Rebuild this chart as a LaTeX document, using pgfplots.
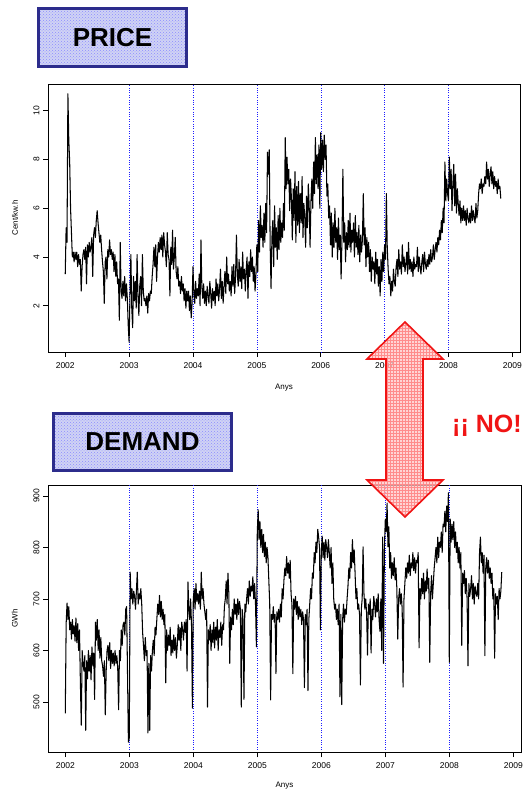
\documentclass[border=0pt]{standalone}
\usepackage{pgfplots}
\pgfplotsset{compat=1.18}
\usepackage{pgfplotstable}
\usepackage{fontspec}
\setmainfont{Liberation Sans}
\usetikzlibrary{patterns}

\definecolor{boxblue}{RGB}{44,44,140}
\definecolor{boxfill}{RGB}{208,211,244}
\definecolor{arrred}{RGB}{240,20,20}
\definecolor{gridblue}{RGB}{30,30,255}

\pgfplotstableread[header=false,row sep=\\]{
3.3\\5.2\\4.6\\10.7\\8.8\\7.9\\
6.0\\5.0\\4.0\\4.2\\3.8\\4.2\\
3.9\\4.2\\3.6\\4.1\\3.7\\3.9\\
2.6\\3.6\\4.1\\4.3\\3.9\\4.4\\
2.9\\4.5\\4.0\\4.6\\4.2\\4.4\\
4.8\\3.2\\4.9\\5.2\\4.8\\5.5\\
5.9\\5.4\\5.0\\4.6\\4.9\\4.3\\
3.8\\3.4\\2.1\\3.8\\4.0\\3.1\\
4.3\\4.0\\4.7\\4.1\\4.3\\3.9\\
4.2\\3.4\\4.1\\3.2\\3.8\\2.9\\
3.1\\1.4\\4.6\\2.6\\2.3\\3.0\\
2.4\\3.2\\2.2\\2.9\\2.3\\1.2\\
0.5\\2.5\\4.1\\1.9\\1.1\\3.2\\
2.2\\3.0\\1.9\\4.1\\2.4\\1.6\\
2.8\\3.2\\2.0\\4.1\\2.6\\2.2\\
2.3\\2.0\\2.4\\1.7\\2.5\\2.2\\
2.6\\2.5\\3.2\\3.7\\4.4\\3.6\\
4.5\\3.0\\4.0\\4.6\\4.2\\4.8\\
4.3\\4.9\\4.0\\5.0\\4.5\\4.2\\
3.6\\5.0\\4.1\\3.9\\2.4\\4.4\\
3.7\\5.1\\3.5\\4.0\\4.8\\3.4\\
3.1\\3.6\\2.8\\3.0\\2.5\\3.2\\
2.6\\2.9\\2.2\\2.7\\1.9\\2.6\\
2.2\\2.6\\1.8\\2.4\\1.5\\2.1\\
3.6\\2.5\\2.1\\3.0\\2.3\\2.7\\
2.4\\3.3\\2.0\\4.7\\2.8\\2.3\\
2.9\\2.1\\2.6\\2.0\\2.8\\2.4\\
2.1\\3.0\\2.5\\1.9\\2.7\\2.2\\
2.6\\2.0\\3.1\\2.4\\2.9\\2.2\\
2.7\\3.5\\2.3\\3.0\\2.1\\2.8\\
3.4\\2.5\\4.0\\2.9\\3.3\\2.6\\
3.0\\2.4\\3.6\\2.8\\3.7\\2.5\\
3.2\\4.9\\3.3\\2.8\\3.9\\3.0\\
3.6\\2.7\\4.2\\3.1\\3.5\\2.6\\
3.5\\4.0\\2.3\\3.8\\3.2\\4.3\\
3.4\\4.0\\3.0\\3.6\\2.6\\3.3\\
4.5\\3.4\\5.5\\4.2\\6.1\\4.8\\
5.3\\4.4\\5.8\\4.6\\6.2\\5.0\\
8.3\\7.4\\8.4\\4.5\\2.7\\4.8\\
5.5\\3.6\\6.1\\4.4\\5.2\\3.9\\
5.7\\4.3\\6.0\\4.6\\5.4\\4.8\\
6.2\\5.1\\8.9\\6.8\\8.1\\7.0\\
7.6\\5.9\\7.2\\6.4\\4.7\\6.8\\
5.5\\7.5\\4.6\\6.9\\5.3\\7.1\\
5.0\\6.6\\5.4\\7.3\\4.8\\6.2\\
5.6\\4.4\\6.5\\5.2\\7.0\\6.1\\
4.4\\6.3\\7.2\\6.0\\7.9\\6.6\\
8.9\\7.0\\8.2\\6.8\\8.6\\6.0\\
9.1\\7.6\\8.8\\7.5\\9.0\\8.0\\
8.6\\6.5\\7.0\\5.6\\6.1\\4.5\\
5.8\\4.0\\5.4\\4.4\\6.0\\4.6\\
5.2\\3.9\\5.6\\4.3\\4.9\\3.1\\
4.8\\7.6\\4.6\\5.4\\3.8\\5.0\\
4.3\\5.5\\4.4\\5.8\\4.2\\5.1\\
4.6\\5.4\\4.0\\5.7\\4.4\\5.0\\
4.1\\5.3\\3.8\\4.9\\4.2\\4.7\\
6.6\\4.5\\5.2\\3.6\\4.8\\4.0\\
4.6\\3.4\\4.3\\3.0\\4.0\\3.5\\
3.8\\2.9\\4.2\\3.3\\3.9\\2.8\\
3.6\\2.4\\3.9\\3.0\\4.2\\3.4\\
4.5\\3.9\\6.6\\4.4\\3.5\\2.9\\
3.2\\2.4\\3.0\\2.6\\3.5\\3.0\\
2.8\\3.6\\3.9\\3.2\\4.3\\3.5\\
3.8\\3.3\\4.5\\3.6\\4.0\\3.4\\
3.7\\4.2\\3.3\\4.6\\3.5\\3.9\\
3.4\\3.8\\3.2\\4.0\\3.5\\3.7\\
3.6\\4.4\\3.4\\4.0\\3.6\\3.3\\
3.8\\4.1\\3.4\\4.2\\3.7\\3.5\\
3.9\\3.6\\4.1\\3.7\\4.3\\3.8\\
4.0\\4.5\\3.9\\4.3\\4.6\\4.2\\
4.8\\4.5\\5.1\\4.7\\5.5\\5.0\\
6.0\\5.4\\7.9\\6.3\\7.2\\6.6\\
6.3\\8.1\\6.8\\7.6\\5.9\\7.0\\
7.8\\6.1\\7.4\\5.8\\6.8\\6.2\\
5.7\\6.3\\5.4\\6.0\\5.5\\6.1\\
5.5\\5.9\\5.3\\6.0\\5.6\\5.4\\
5.8\\5.4\\6.1\\5.5\\5.9\\5.6\\
5.4\\6.2\\5.6\\5.9\\6.6\\7.0\\
6.8\\7.2\\6.6\\7.0\\6.9\\7.3\\
7.0\\7.9\\7.2\\7.6\\6.9\\7.4\\
7.7\\7.0\\7.5\\6.8\\7.3\\6.9\\
7.1\\6.6\\7.2\\6.8\\6.9\\6.4\\
}\pricedata

\pgfplotstableread[header=false,row sep=\\]{
478\\653\\692\\660\\685\\640\\
655\\622\\660\\632\\648\\618\\
663\\615\\652\\600\\640\\537\\
455\\600\\575\\560\\590\\445\\
580\\545\\600\\560\\590\\543\\
607\\570\\595\\505\\655\\620\\
660\\600\\640\\585\\625\\580\\
570\\550\\580\\475\\560\\600\\
610\\580\\615\\565\\600\\575\\
595\\570\\600\\575\\590\\565\\
485\\600\\580\\640\\610\\650\\
655\\630\\680\\685\\558\\422\\
430\\752\\700\\720\\690\\715\\
705\\680\\715\\752\\690\\710\\
700\\720\\690\\635\\610\\580\\
625\\590\\600\\440\\575\\445\\
590\\560\\600\\620\\590\\645\\
630\\660\\690\\670\\707\\665\\
695\\660\\680\\650\\670\\537\\
640\\600\\630\\610\\645\\590\\
620\\595\\630\\600\\625\\585\\
610\\650\\620\\645\\600\\655\\
640\\620\\655\\635\\660\\560\\
733\\680\\660\\700\\650\\488\\
700\\720\\680\\730\\695\\710\\
690\\715\\680\\752\\700\\720\\
690\\675\\660\\680\\490\\640\\
620\\650\\600\\640\\615\\655\\
605\\645\\620\\660\\600\\640\\
625\\655\\610\\650\\640\\685\\
700\\735\\690\\750\\710\\575\\
665\\640\\680\\650\\700\\670\\
690\\660\\700\\670\\695\\680\\
490\\680\\660\\505\\690\\675\\
700\\720\\690\\735\\705\\725\\
715\\743\\700\\730\\690\\607\\
830\\873\\815\\850\\800\\835\\
790\\825\\782\\810\\770\\800\\
780\\735\\690\\504\\670\\660\\
685\\655\\670\\555\\675\\660\\
680\\655\\690\\665\\720\\700\\
737\\760\\745\\782\\750\\770\\
740\\775\\710\\690\\555\\700\\
680\\705\\670\\695\\660\\685\\
665\\680\\650\\675\\660\\528\\
670\\650\\680\\522\\660\\690\\
720\\700\\750\\740\\790\\770\\
810\\790\\835\\820\\800\\640\\
790\\822\\780\\810\\775\\815\\
800\\780\\815\\790\\760\\800\\
730\\770\\700\\680\\690\\660\\
680\\650\\690\\510\\670\\495\\
660\\690\\655\\680\\670\\700\\
725\\760\\740\\790\\760\\815\\
770\\795\\750\\700\\720\\680\\
690\\670\\533\\680\\700\\801\\
710\\680\\700\\670\\591\\690\\
670\\700\\595\\680\\660\\705\\
690\\665\\700\\675\\710\\660\\
637\\700\\600\\820\\575\\800\\
855\\830\\886\\801\\840\\760\\
790\\740\\770\\745\\780\\737\\
760\\720\\622\\700\\720\\690\\
710\\680\\529\\700\\730\\760\\
740\\770\\750\\785\\745\\770\\
760\\790\\755\\780\\750\\775\\
770\\790\\605\\720\\700\\740\\
710\\750\\700\\735\\715\\758\\
720\\740\\577\\710\\745\\700\\
730\\760\\780\\800\\770\\820\\
780\\810\\800\\830\\790\\845\\
840\\870\\830\\880\\850\\906\\
577\\855\\810\\845\\815\\850\\
800\\830\\790\\810\\770\\800\\
760\\790\\610\\750\\730\\755\\
710\\740\\700\\570\\730\\705\\
720\\745\\700\\730\\690\\725\\
710\\705\\730\\700\\790\\820\\
770\\790\\750\\785\\590\\760\\
780\\750\\775\\740\\760\\730\\
750\\700\\720\\585\\710\\690\\
705\\660\\720\\700\\715\\752\\
}\demanddata

\pgfplotsset{
  rstyle/.style={
    scale only axis,
    axis line style={black, line width=0.8pt},
    tick align=outside,
    tick pos=left,
    major tick length=5pt,
    tick style={black, line width=0.6pt},
    xmin=2001.73, xmax=2009.12,
    xtick={2002,2003,2004,2005,2006,2007,2008,2009},
    tick label style={font=\fontsize{8.5}{10}\selectfont},
    /pgf/number format/assume math mode=true,
    /pgf/number format/1000 sep={},
    extra x ticks={2003,2004,2005,2006,2007,2008},
    extra x tick labels={},
    extra x tick style={grid=major, major grid style={gridblue, dotted, line width=0.45pt}},
    yticklabel style={rotate=90, anchor=south},
    xticklabel style={yshift=-2pt},
    label style={font=\fontsize{8}{10}\selectfont},
    xlabel={Anys},
  }
}

\begin{document}
\begin{tikzpicture}[x=1pt,y=1pt]
\path[use as bounding box] (0,0) rectangle (525,793);

\begin{axis}[rstyle,
  at={(48pt,441pt)}, anchor=south west,
  width=472pt, height=268pt,
  ymin=0.1, ymax=11.1,
  ytick={2,4,6,8,10},
  ylabel={Cent/kw.h},
  xlabel style={at={(axis description cs:0.5,-0.134)}, anchor=center},
  ylabel style={at={(axis description cs:-0.07,0.5)}, anchor=center},
]
\addplot[black, line width=1.05pt, line join=round] table[x expr={2002+\coordindex/72}, y index=0] {\pricedata};
\end{axis}

\begin{axis}[rstyle,
  at={(48pt,41pt)}, anchor=south west,
  width=473pt, height=267pt,
  ymin=403, ymax=921,
  ytick={500,600,700,800,900},
  ylabel={GWh},
  xlabel style={at={(axis description cs:0.5,-0.127)}, anchor=center},
  ylabel style={at={(axis description cs:-0.07,0.5)}, anchor=center},
]
\addplot[black, line width=1.05pt, line join=round] table[x expr={2002+\coordindex/72}, y index=0] {\demanddata};
\end{axis}

% title boxes
\node[draw=boxblue, line width=2.5pt, preaction={fill=boxfill}, pattern=crosshatch dots, pattern color=blue!45,
      minimum width=148pt, minimum height=58pt, inner sep=0pt,
      font=\fontsize{26}{30}\selectfont\bfseries] at (112.5,755.5) {PRICE};
\node[draw=boxblue, line width=2.5pt, preaction={fill=boxfill}, pattern=crosshatch dots, pattern color=blue!45,
      minimum width=178pt, minimum height=57pt, inner sep=0pt,
      font=\fontsize{26}{30}\selectfont\bfseries] at (142.5,351) {DEMAND};

% double arrow
\def\arrowpath{(405,471)--(443,434)--(423,434)--(423,313)--(443,313)--(405,276)--(367,313)--(386,313)--(386,434)--(367,434)--cycle}
\path[fill=red!22, fill opacity=0.75] \arrowpath;
\path[pattern=grid, pattern color=red!45] \arrowpath;
\draw[arrred, line width=1.6pt, line join=miter] \arrowpath;

\node[anchor=west, text=arrred, inner sep=0pt, font=\fontsize{25}{30}\selectfont\bfseries] at (452,367) {¡¡ NO!};
\end{tikzpicture}
\end{document}
